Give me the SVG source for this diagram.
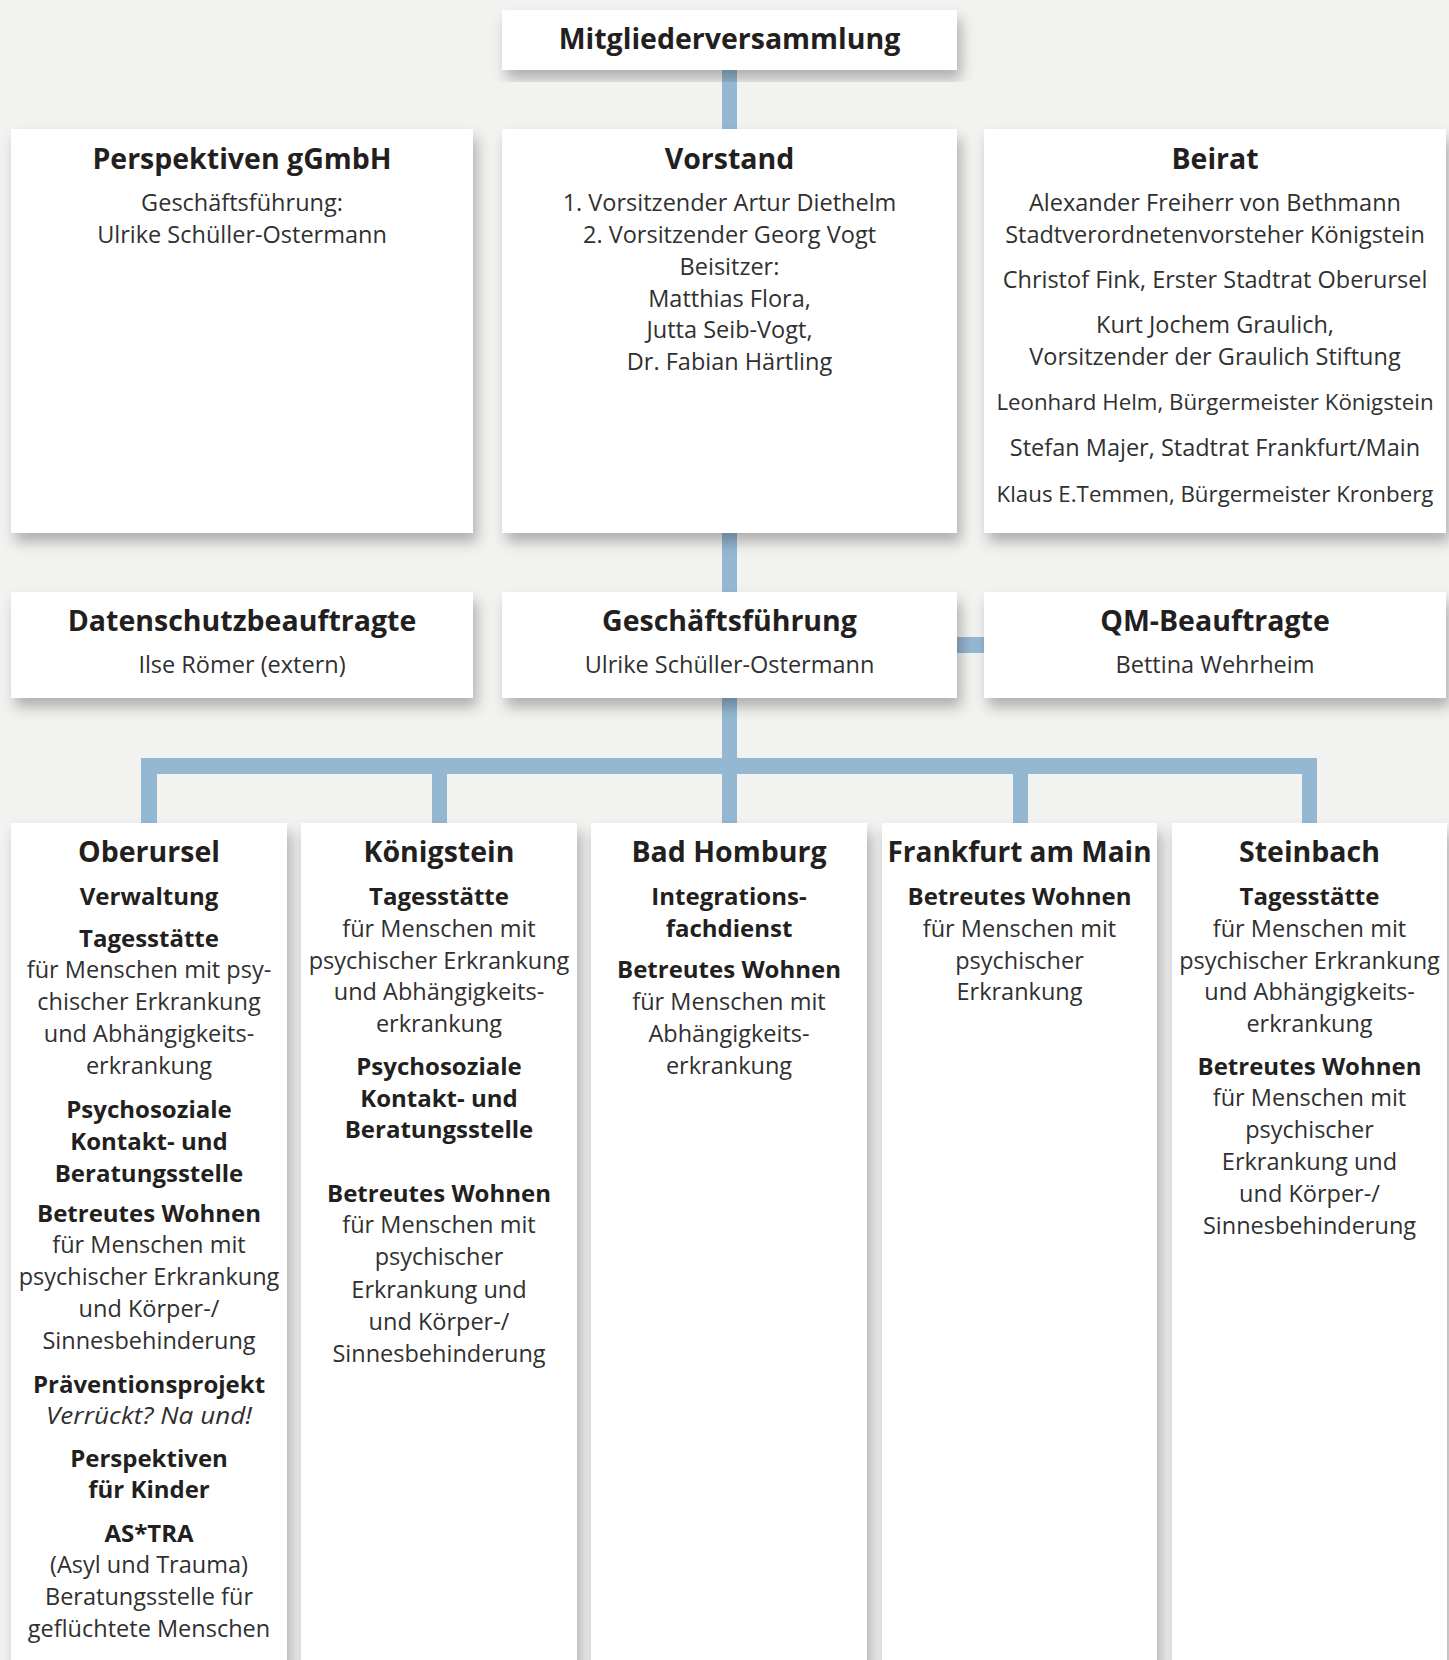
<svg xmlns="http://www.w3.org/2000/svg" width="1449" height="1660" viewBox="0 0 1449 1660">
<defs>
<filter id="sh" x="-10%" y="-10%" width="125%" height="130%">
<feDropShadow dx="4" dy="9" stdDeviation="7" flood-color="#000" flood-opacity="0.28"/>
</filter>
<style>
.box{fill:#fff;filter:url(#sh)}
.con{fill:#94b8d2}
text{font-family:"Open Sans","Noto Sans",sans-serif;text-anchor:middle;fill:#303030}
.t{font-size:28.5px;font-weight:bold;fill:#231f20}
.h{font-size:24px;font-weight:bold;fill:#231f20}
.r{font-size:23.5px}
.n{font-size:22.3px}
.i{font-size:24px;font-style:italic}
</style>
</defs>
<rect width="1449" height="1660" fill="#f2f2f1"/>
<g id="connectors">
<rect class="con" x="722" y="68" width="15" height="63"/>
<rect class="con" x="722" y="531" width="15" height="63"/>
<rect class="con" x="955" y="637" width="31" height="16"/>
<rect class="con" x="722" y="696" width="15" height="64"/>
<rect class="con" x="141" y="758" width="1176" height="16"/>
<rect class="con" x="141" y="772" width="16" height="53"/>
<rect class="con" x="432" y="772" width="15" height="53"/>
<rect class="con" x="722" y="772" width="15" height="53"/>
<rect class="con" x="1013" y="772" width="15" height="53"/>
<rect class="con" x="1302" y="772" width="15" height="53"/>
</g>
<g id="mitgliederversammlung">
<rect class="box" x="502" y="10" width="455" height="60"/>
<text class="t" x="729.5" y="49">Mitgliederversammlung</text>
</g>
<g id="perspektiven">
<rect class="box" x="11" y="129" width="462" height="404"/>
<text class="t" x="242" y="169">Perspektiven gGmbH</text>
<text class="r" x="242" y="211">Geschäftsführung:</text>
<text class="r" x="242" y="243">Ulrike Schüller-Ostermann</text>
</g>
<g id="vorstand">
<rect class="box" x="502" y="129" width="455" height="404"/>
<text class="t" x="729.5" y="169">Vorstand</text>
<text class="r" x="729.5" y="211">1. Vorsitzender Artur Diethelm</text>
<text class="r" x="729.5" y="243">2. Vorsitzender Georg Vogt</text>
<text class="r" x="729.5" y="275">Beisitzer:</text>
<text class="r" x="729.5" y="307">Matthias Flora,</text>
<text class="r" x="729.5" y="338">Jutta Seib-Vogt,</text>
<text class="r" x="729.5" y="370">Dr. Fabian Härtling</text>
</g>
<g id="beirat">
<rect class="box" x="984" y="129" width="462" height="404"/>
<text class="t" x="1215" y="169">Beirat</text>
<text class="r" x="1215" y="211">Alexander Freiherr von Bethmann</text>
<text class="r" x="1215" y="243">Stadtverordnetenvorsteher Königstein</text>
<text class="r" x="1215" y="288">Christof Fink, Erster Stadtrat Oberursel</text>
<text class="r" x="1215" y="333">Kurt Jochem Graulich,</text>
<text class="r" x="1215" y="365">Vorsitzender der Graulich Stiftung</text>
<text class="n" x="1215" y="410">Leonhard Helm, Bürgermeister Königstein</text>
<text class="r" x="1215" y="456">Stefan Majer, Stadtrat Frankfurt/Main</text>
<text class="n" x="1215" y="502">Klaus E.Temmen, Bürgermeister Kronberg</text>
</g>
<g id="datenschutz">
<rect class="box" x="11" y="592" width="462" height="106"/>
<text class="t" x="242" y="631">Datenschutzbeauftragte</text>
<text class="r" x="242" y="673">Ilse Römer (extern)</text>
</g>
<g id="geschaeftsfuehrung">
<rect class="box" x="502" y="592" width="455" height="106"/>
<text class="t" x="729.5" y="631">Geschäftsführung</text>
<text class="r" x="729.5" y="673">Ulrike Schüller-Ostermann</text>
</g>
<g id="qm">
<rect class="box" x="984" y="592" width="462" height="106"/>
<text class="t" x="1215" y="631">QM-Beauftragte</text>
<text class="r" x="1215" y="673">Bettina Wehrheim</text>
</g>
<g id="oberursel">
<rect class="box" x="11" y="823" width="276" height="860"/>
<text class="t" x="149" y="862">Oberursel</text>
<text class="h" x="149" y="905">Verwaltung</text>
<text class="h" x="149" y="947">Tagesstätte</text>
<text class="r" x="149" y="978">für Menschen mit psy-</text>
<text class="r" x="149" y="1010">chischer Erkrankung</text>
<text class="r" x="149" y="1042">und Abhängigkeits-</text>
<text class="r" x="149" y="1074">erkrankung</text>
<text class="h" x="149" y="1118">Psychosoziale</text>
<text class="h" x="149" y="1150">Kontakt- und</text>
<text class="h" x="149" y="1182">Beratungsstelle</text>
<text class="h" x="149" y="1222">Betreutes Wohnen</text>
<text class="r" x="149" y="1253">für Menschen mit</text>
<text class="r" x="149" y="1285">psychischer Erkrankung</text>
<text class="r" x="149" y="1317">und Körper-/</text>
<text class="r" x="149" y="1349">Sinnesbehinderung</text>
<text class="h" x="149" y="1393">Präventionsprojekt</text>
<text class="i" x="149" y="1424" textLength="206" lengthAdjust="spacingAndGlyphs">Verrückt? Na und!</text>
<text class="h" x="149" y="1467">Perspektiven</text>
<text class="h" x="149" y="1498">für Kinder</text>
<text class="h" x="149" y="1542">AS*TRA</text>
<text class="r" x="149" y="1573">(Asyl und Trauma)</text>
<text class="r" x="149" y="1605">Beratungsstelle für</text>
<text class="r" x="149" y="1637">geflüchtete Menschen</text>
</g>
<g id="koenigstein">
<rect class="box" x="301" y="823" width="276" height="860"/>
<text class="t" x="439" y="862">Königstein</text>
<text class="h" x="439" y="905">Tagesstätte</text>
<text class="r" x="439" y="937">für Menschen mit</text>
<text class="r" x="439" y="969">psychischer Erkrankung</text>
<text class="r" x="439" y="1000">und Abhängigkeits-</text>
<text class="r" x="439" y="1032">erkrankung</text>
<text class="h" x="439" y="1075">Psychosoziale</text>
<text class="h" x="439" y="1107">Kontakt- und</text>
<text class="h" x="439" y="1138">Beratungsstelle</text>
<text class="h" x="439" y="1202">Betreutes Wohnen</text>
<text class="r" x="439" y="1233">für Menschen mit</text>
<text class="r" x="439" y="1265">psychischer</text>
<text class="r" x="439" y="1298">Erkrankung und</text>
<text class="r" x="439" y="1330">und Körper-/</text>
<text class="r" x="439" y="1362">Sinnesbehinderung</text>
</g>
<g id="badhomburg">
<rect class="box" x="591" y="823" width="276" height="860"/>
<text class="t" x="729" y="862">Bad Homburg</text>
<text class="h" x="729" y="905">Integrations-</text>
<text class="h" x="729" y="937">fachdienst</text>
<text class="h" x="729" y="978">Betreutes Wohnen</text>
<text class="r" x="729" y="1010">für Menschen mit</text>
<text class="r" x="729" y="1042">Abhängigkeits-</text>
<text class="r" x="729" y="1074">erkrankung</text>
</g>
<g id="frankfurt">
<rect class="box" x="882" y="823" width="275" height="860"/>
<text class="t" x="1019.5" y="862" style="font-size:28px">Frankfurt am Main</text>
<text class="h" x="1019.5" y="905">Betreutes Wohnen</text>
<text class="r" x="1019.5" y="937">für Menschen mit</text>
<text class="r" x="1019.5" y="969">psychischer</text>
<text class="r" x="1019.5" y="1000">Erkrankung</text>
</g>
<g id="steinbach">
<rect class="box" x="1172" y="823" width="275" height="860"/>
<text class="t" x="1309.5" y="862">Steinbach</text>
<text class="h" x="1309.5" y="905">Tagesstätte</text>
<text class="r" x="1309.5" y="937">für Menschen mit</text>
<text class="r" x="1309.5" y="969">psychischer Erkrankung</text>
<text class="r" x="1309.5" y="1000">und Abhängigkeits-</text>
<text class="r" x="1309.5" y="1032">erkrankung</text>
<text class="h" x="1309.5" y="1075">Betreutes Wohnen</text>
<text class="r" x="1309.5" y="1106">für Menschen mit</text>
<text class="r" x="1309.5" y="1138">psychischer</text>
<text class="r" x="1309.5" y="1170">Erkrankung und</text>
<text class="r" x="1309.5" y="1202">und Körper-/</text>
<text class="r" x="1309.5" y="1234">Sinnesbehinderung</text>
</g>
</svg>
